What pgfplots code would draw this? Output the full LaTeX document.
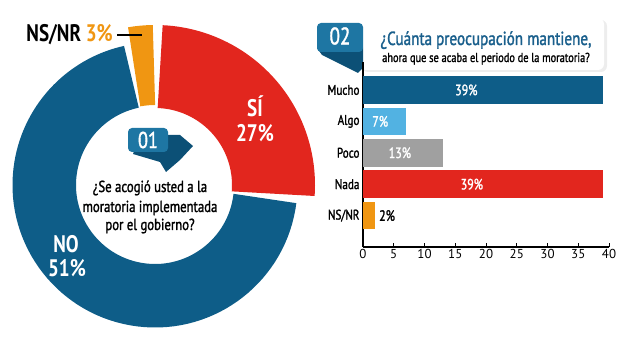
\documentclass[border=0pt]{standalone}
\usepackage{pgfplots}
\pgfplotsset{compat=1.18}
\usepackage{fontspec}
\setmainfont{PT Sans}[FakeStretch=0.8]
\newfontfamily\medfont{PT Sans}[FakeStretch=0.8, FakeBold=1.5]
\newfontfamily\tickfont{PT Sans}
\definecolor{cblue}{RGB}{14,93,136}
\definecolor{cbadge}{RGB}{30,118,163}
\definecolor{cbadgeD}{RGB}{12,80,118}
\definecolor{cred}{RGB}{226,38,30}
\definecolor{corange}{RGB}{240,150,18}
\definecolor{clight}{RGB}{82,178,226}
\definecolor{cgray}{RGB}{160,160,160}
\definecolor{ctitle}{RGB}{25,95,140}
\begin{document}
\begin{tikzpicture}
\useasboundingbox (0,0) rectangle (630bp,344bp);
% donut values (percent)
\def\vNO{51}\def\vSI{27}\def\vNS{3}
\pgfmathsetmacro\redS{90-2.5}
\pgfmathsetmacro\redE{90-(\vSI*3.6-3)}
\pgfmathsetmacro\orS{90+0.5+(\vNS*3.6-1.3)}
\pgfmathsetmacro\orE{90+0.5}
\pgfmathsetmacro\blS{\redE-2.8}
\pgfmathsetmacro\blE{\orS+2.3-360}
\begin{axis}[at={(0,0)}, anchor=south west, scale only axis,
  width=630bp, height=344bp, xmin=0, xmax=630, ymin=0, ymax=344,
  hide axis, clip=false]
% donut
\draw[cblue, line width=63.5bp] (axis cs:155,159) ++(\blS:110.75bp) arc[start angle=\blS, end angle=\blE, radius=110.75bp];
\draw[cred, line width=83bp] (axis cs:155,159) ++(\redS:118.5bp) arc[start angle=\redS, end angle=\redE, radius=118.5bp];
\draw[corange, line width=80bp] (axis cs:155,159) ++(\orS:120bp) arc[start angle=\orS, end angle=\orE, radius=120bp];
% donut labels
\node[anchor=base east, font=\bfseries\fontsize{24}{24}\selectfont, inner sep=0pt] at (axis cs:113,302) {NS/NR \textcolor{corange}{3\%}};
\draw[line width=1.5bp] (axis cs:117,309) -- (axis cs:142,309);
\node[anchor=base, white, font=\bfseries\fontsize{24}{24}\selectfont, inner sep=0pt] at (axis cs:255,227) {SÍ};
\node[anchor=base, white, font=\bfseries\fontsize{24}{24}\selectfont, inner sep=0pt] at (axis cs:255,202) {27\%};
\node[anchor=base, white, font=\bfseries\fontsize{24}{24}\selectfont, inner sep=0pt] at (axis cs:66,91) {NO};
\node[anchor=base, white, font=\bfseries\fontsize{24}{24}\selectfont, inner sep=0pt] at (axis cs:67,67) {51\%};
% badge 01
\fill[cbadgeD] (axis cs:140,209) -- (axis cs:180,209) -- (axis cs:193,198) -- (axis cs:180,184) -- (axis cs:166,172) -- (axis cs:160,182) -- (axis cs:133,190) -- cycle;
\fill[cbadge, rounded corners=4bp] (axis cs:128,216) rectangle (axis cs:168,192);
\node[white, font=\medfont\fontsize{23}{23}\selectfont, inner sep=0pt] at (axis cs:148,204) {01};
% question
\node[anchor=base, font=\medfont\fontsize{16}{16}\selectfont, inner sep=0pt] at (axis cs:150,152) {¿Se acogió usted a la};
\node[anchor=base, font=\medfont\fontsize{16}{16}\selectfont, inner sep=0pt] at (axis cs:150,132) {moratoria implementada};
\node[anchor=base, font=\medfont\fontsize{16}{16}\selectfont, inner sep=0pt] at (axis cs:150,114) {por el gobierno?};
% title box
\fill[black!7, rounded corners=6bp] (axis cs:362,272) rectangle (axis cs:607,324);
\fill[white, rounded corners=6bp] (axis cs:360,274) rectangle (axis cs:604,326);
% badge 02
\fill[cbadgeD] (axis cs:317,296) -- (axis cs:363,296) -- (axis cs:363,276) -- (axis cs:358,271) -- (axis cs:322,289) -- cycle;
\fill[cbadge, rounded corners=4bp] (axis cs:317,321) rectangle (axis cs:363,292);
\node[white, font=\medfont\fontsize{24}{24}\selectfont, inner sep=0pt] at (axis cs:340,308) {02};
\node[anchor=base, ctitle, font=\medfont\fontsize{19}{19}\selectfont, inner sep=0pt] at (axis cs:486,299) {¿Cuánta preocupación mantiene,};
\node[anchor=base, font=\medfont\fontsize{13}{13}\selectfont, inner sep=0pt] at (axis cs:486,282) {ahora que se acaba el periodo de la moratoria?};
\end{axis}
\begin{axis}[at={(363bp,97bp)}, anchor=south west, scale only axis,
  width=246bp, height=185.3bp,
  xmin=0, xmax=40, ymin=-1, ymax=4.9,
  xbar, bar width=27.5bp,
  axis x line*=bottom, axis y line*=left,
  axis line style={line width=1.3bp, black, -},
  xtick={0,5,...,40}, tick align=inside, major tick length=4bp,
  xtick style={line width=1bp, black},
  ytick={0,1,2,3,4}, yticklabels={NS/NR,Nada,Poco,Algo,Mucho},
  ytick style={draw=none},
  yticklabel style={font=\medfont\fontsize{14}{14}\selectfont},
  xticklabel style={font=\tickfont\fontsize{13}{13}\selectfont, yshift=1bp},
  /pgf/number format/assume math mode=true,
  clip=false]
\addplot[fill=cblue, draw=none, bar shift=0pt] coordinates {(39,4)};
\addplot[fill=clight, draw=none, bar shift=0pt] coordinates {(7,3)};
\addplot[fill=cgray, draw=none, bar shift=0pt] coordinates {(13,2)};
\addplot[fill=cred, draw=none, bar shift=0pt] coordinates {(39,1)};
\addplot[fill=corange, draw=none, bar shift=0pt] coordinates {(2,0)};
\node[white, font=\medfont\fontsize{15}{15}\selectfont] at (axis cs:16.8,4) {39\%};
\node[white, font=\medfont\fontsize{15}{15}\selectfont] at (axis cs:2.8,3) {7\%};
\node[white, font=\medfont\fontsize{15}{15}\selectfont] at (axis cs:6.0,2) {13\%};
\node[white, font=\medfont\fontsize{15}{15}\selectfont] at (axis cs:17.7,1) {39\%};
\node[anchor=west, font=\medfont\fontsize{15}{15}\selectfont, inner sep=0pt] at (axis cs:2.6,0) {2\%};
\end{axis}
\end{tikzpicture}
\end{document}
